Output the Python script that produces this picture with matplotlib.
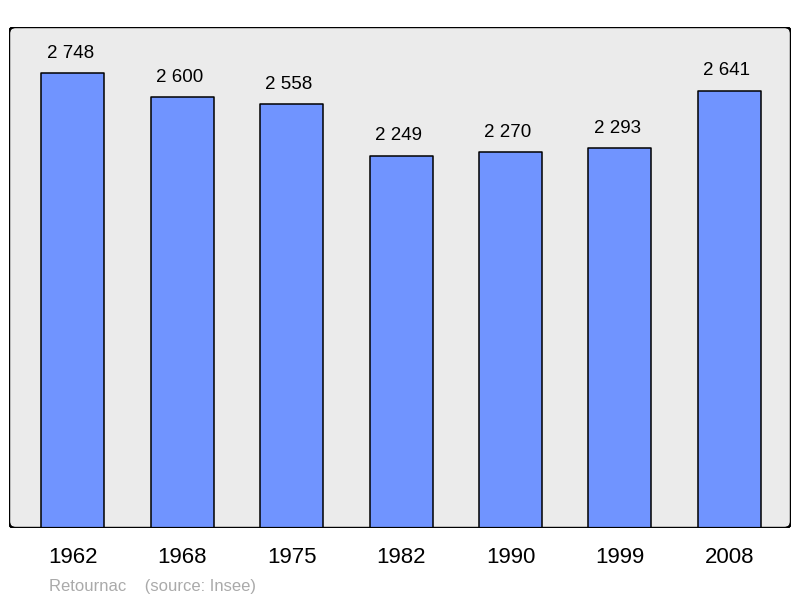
import numpy as np
import matplotlib.pyplot as plt
from matplotlib.patches import FancyBboxPatch

years = ['1962', '1968', '1975', '1982', '1990', '1999', '2008']
population = [2748, 2600, 2558, 2249, 2270, 2293, 2641]
labels = ['2 748', '2 600', '2 558', '2 249', '2 270', '2 293', '2 641']

plt.rcParams['font.family'] = ['Liberation Sans', 'DejaVu Sans']

fig = plt.figure(figsize=(8, 5.98), dpi=100)
ax = fig.add_axes([9 / 800, 1 - 528 / 598, 782 / 800, 501 / 598])
ax.set_facecolor('none')

x = np.arange(len(years))
ax.bar(x, population, width=0.576, color='#7094ff', edgecolor='black',
       linewidth=1.1, joinstyle='round', zorder=2)

for xi, v, lab in zip(x, population, labels):
    ax.annotate(lab, (xi, v), xytext=(-2, 8), textcoords='offset points',
                ha='center', va='bottom', fontsize=13.5)

ax.set_xlim(-0.585, 6.565)
ax.set_ylim(0, 3025)
ax.set_xticks(x)
ax.set_xticklabels(years, fontsize=16)
ax.tick_params(axis='x', length=0, pad=14)
ax.set_yticks([])
for s in ax.spines.values():
    s.set_visible(False)

# рамка со скруглёнными углами
frame = FancyBboxPatch((0, 0), 1, 1, boxstyle='round,pad=0,rounding_size=0.008',
                       transform=ax.transAxes, facecolor='#ebebeb',
                       edgecolor='black', linewidth=1.6, zorder=0,
                       mutation_aspect=782 / 501)
ax.add_patch(frame)
frame2 = FancyBboxPatch((0, 0), 1, 1, boxstyle='round,pad=0,rounding_size=0.008',
                        transform=ax.transAxes, facecolor='none',
                        edgecolor='black', linewidth=1.6, zorder=3,
                        mutation_aspect=782 / 501)
ax.add_patch(frame2)

fig.text(49 / 800, 1 - 586 / 598, 'Retournac    (source: Insee)', color='#aaaaaa',
         fontsize=12, ha='left', va='center')

fig.savefig('out.png', dpi=100)
